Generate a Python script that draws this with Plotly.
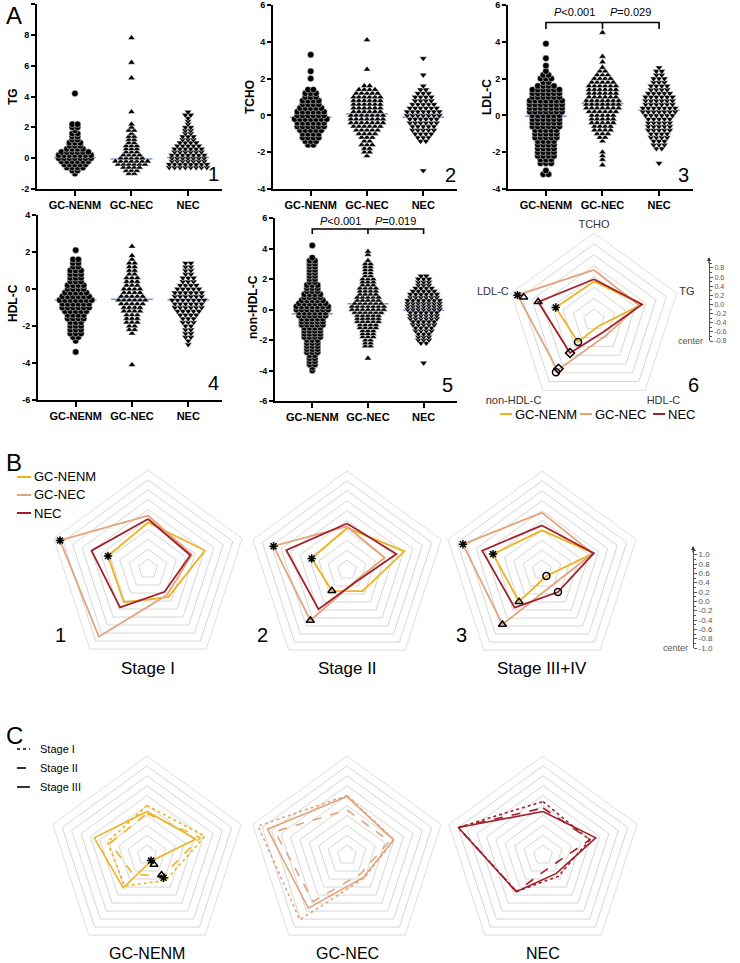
import plotly.graph_objects as go

W, H = 740, 963
FONT = "Liberation Sans, Arial, sans-serif"

# ---------------- categories / styles ----------------
GROUPS = ["GC-NENM", "GC-NEC", "NEC"]
GROUP_COLORS = ["#EDB21E", "#E3A47C", "#A3202A"]
MARKER_SYMBOLS = ["circle", "triangle-up", "triangle-down"]
STAGES = ["Stage I", "Stage II", "Stage III"]
STAGE_DASH = ["dot", "dash", "solid"]
STAGE_TITLES = ["Stage I", "Stage II", "Stage III+IV"]
RADAR_AXES = ["TCHO", "TG", "HDL-C", "non-HDL-C", "LDL-C"]


def levels(lo, hi):
    return [round(lo + 0.2 * i, 1) for i in range(int(round((hi - lo) / 0.2)) + 1)]


TG_LEVELS = levels(-1.0, 3.0)
TG_GCNENM = [1, 2, 4, 5, 6, 7, 7, 6, 4, 3, 3, 2, 2, 2, 1, 2, 2, 0, 0, 0, 0]
TG_GCNEC = [2, 3, 4, 6, 7, 5, 4, 3, 3, 3, 2, 2, 2, 1, 2, 1, 1, 0, 0, 0, 0]
TG_NEC = [0, 0, 8, 8, 7, 7, 7, 6, 6, 5, 4, 3, 3, 2, 2, 2, 1, 1, 1, 2, 1]
TG_OUT = [[4.2], [3.0, 5.2, 6.2, 7.8], []]
TG_MEAN = [0.05, -0.05, 0.05]

TCHO_LEVELS = levels(-2.2, 2.4)
TCHO_GCNENM = [0, 0, 0, 2, 3, 4, 4, 5, 6, 6, 7, 6, 6, 5, 4, 4, 3, 3, 2, 0, 0, 1, 0, 1]
TCHO_GCNEC = [1, 2, 2, 3, 2, 3, 4, 5, 6, 7, 7, 7, 6, 6, 6, 6, 6, 5, 4, 2, 0, 0, 0, 0]
TCHO_NEC = [0, 0, 0, 0, 2, 3, 4, 5, 5, 6, 6, 7, 7, 6, 5, 4, 4, 3, 2, 1, 0, 0, 1, 0]
TCHO_OUT = [[3.3], [2.5, 4.1], [3.1, -3.0]]
TCHO_MEAN = [-0.1, 0.08, -0.1]

LDL_LEVELS = levels(-3.2, 2.6)
LDL_GCNENM = [2, 1, 0, 3, 3, 4, 4, 4, 4, 4, 5, 5, 5, 6, 6, 6, 6, 7, 7, 7, 7, 6, 6, 6, 4, 2, 3, 2, 1, 0]
LDL_GCNEC = [0, 0, 0, 0, 1, 1, 1, 0, 0, 1, 2, 3, 4, 4, 5, 5, 5, 6, 7, 7, 7, 6, 6, 6, 6, 5, 4, 3, 2, 1]
LDL_NEC = [0, 0, 0, 0, 0, 0, 0, 2, 3, 3, 4, 4, 5, 5, 5, 5, 6, 7, 7, 6, 6, 6, 5, 4, 4, 3, 3, 2, 2, 1]
LDL_OUT = [[2.7, 3.1, 3.9], [-2.7, 2.9, 3.2, 4.5], [-2.6]]
LDL_MEAN = [-0.05, 0.65, 0.28]

HDL_LEVELS = levels(-3.0, 1.8)
HDL_GCNENM = [0, 1, 2, 3, 3, 3, 3, 4, 4, 5, 6, 6, 7, 6, 5, 4, 4, 3, 3, 3, 3, 2, 2, 2, 0]
HDL_GCNEC = [0, 0, 0, 1, 2, 2, 3, 3, 3, 4, 4, 5, 6, 5, 4, 4, 3, 3, 3, 2, 2, 2, 2, 1, 1]
HDL_NEC = [1, 1, 2, 2, 2, 2, 3, 3, 4, 5, 6, 6, 7, 6, 6, 5, 4, 3, 3, 2, 2, 2, 2, 0, 0]
HDL_OUT = [[2.1, -3.4], [2.3, -4.1], []]
HDL_MEAN = [-0.6, -0.55, -0.6]

NONHDL_LEVELS = levels(-4.0, 3.4)
NONHDL_GCNENM = [1, 1, 2, 2, 2, 2, 3, 3, 3, 3, 3, 4, 4, 4, 4, 5, 5, 5, 6, 6, 7, 7, 6, 5, 4, 4,
                 3, 3, 3, 2, 2, 2, 2, 2, 2, 2, 2, 1]
NONHDL_GCNEC = [0, 0, 0, 0, 0, 0, 0, 0, 2, 2, 2, 3, 3, 3, 4, 4, 5, 5, 5, 6, 7, 7, 6, 5, 5, 4,
                4, 4, 3, 3, 3, 2, 2, 2, 2, 2, 1, 0]
NONHDL_NEC = [0, 0, 0, 0, 0, 0, 0, 0, 0, 2, 3, 3, 3, 4, 4, 5, 5, 6, 6, 6, 7, 7, 7, 7, 6, 6,
              5, 4, 3, 3, 3, 2, 0, 0, 0, 0, 0, 0]
NONHDL_OUT = [[4.2], [-3.2, 3.6, 3.8], [-3.5]]
NONHDL_MEAN = [-0.28, 0.38, -0.05]

# ---------------- radar data (score on each lipid axis) ----------------
A6_CENTER, A6_TOP = -0.8, 0.8        # scale of radar 6 (center .. outer ring)
B_CENTER, B_TOP = -1.0, 1.0          # scale of panels B and C

A6_GCNENM = [-0.09, 0.13, -0.66, -0.30, -0.06]
A6_GCNEC = [0.12, 0.07, -0.44, 0.34, 0.68]
A6_NEC = [-0.05, 0.13, -0.52, -0.05, 0.28]

B1_GCNENM = [-0.06, 0.21, -0.30, -0.17, -0.15]
B1_GCNEC = [0.08, -0.07, -0.35, 0.69, 0.87]
B1_NEC = [0.01, -0.10, -0.43, -0.04, 0.20]
B2_GCNENM = [-0.15, 0.22, -0.47, -0.48, -0.25]
B2_GCNEC = [-0.12, -0.20, -0.72, 0.26, 0.56]
B2_NEC = [-0.06, 0.05, -0.70, -0.02, 0.29]
B3_GCNENM = [-0.20, 0.10, -0.85, -0.21, 0.04]
B3_GCNEC = [0.16, 0.08, -0.63, 0.36, 0.68]
B3_NEC = [-0.10, 0.10, -0.45, -0.06, 0.27]

C_GCNENM = [[0.00, 0.23, -0.36, -0.23, -0.16],
            [-0.16, 0.13, -0.47, -0.52, -0.22],
            [-0.12, 0.04, -0.85, -0.18, 0.12]]
C_GCNEC = [[0.20, 0.00, -0.42, 0.62, 0.89],
           [-0.09, -0.10, -0.53, 0.16, 0.53],
           [0.18, -0.01, -0.44, 0.33, 0.69]]
C_NEC = [[0.08, -0.01, -0.47, -0.09, 0.80],
         [-0.05, 0.00, -0.72, -0.09, 0.80],
         [-0.12, 0.12, -0.54, -0.08, 0.80]]

# significance markers on radars: axis, value, symbol
A6_MARK_AXIS = ["LDL-C", "LDL-C", "LDL-C", "LDL-C", "non-HDL-C", "non-HDL-C", "non-HDL-C", "non-HDL-C"]
A6_MARK_VAL = [0.68, 0.56, 0.28, -0.06, -0.30, -0.05, 0.39, 0.31]
A6_MARK_SYM = ["asterisk-open", "triangle-up-open", "triangle-up-open", "asterisk-open",
               "circle-open", "diamond-open", "circle-open", "diamond-open"]
B1_MARK_AXIS = ["LDL-C", "LDL-C"]
B1_MARK_VAL = [0.87, -0.15]
B1_MARK_SYM = ["asterisk-open", "asterisk-open"]
B2_MARK_AXIS = ["LDL-C", "LDL-C", "non-HDL-C", "non-HDL-C"]
B2_MARK_VAL = [0.56, -0.25, -0.48, 0.26]
B2_MARK_SYM = ["asterisk-open", "asterisk-open", "triangle-up-open", "triangle-up-open"]
B3_MARK_AXIS = ["LDL-C", "LDL-C", "non-HDL-C", "non-HDL-C", "HDL-C", "HDL-C"]
B3_MARK_VAL = [0.68, 0.04, -0.21, 0.36, -0.85, -0.45]
B3_MARK_SYM = ["asterisk-open", "asterisk-open", "triangle-up-open", "triangle-up-open",
               "circle-open", "circle-open"]
C1_MARK_AXIS = ["HDL-C", "HDL-C", "HDL-C", "HDL-C"]
C1_MARK_VAL = [-0.86, -0.76, -0.50, -0.43]
C1_MARK_SYM = ["asterisk-open", "triangle-up-open", "triangle-up-open", "asterisk-open"]

SCALE_A = [0.8, 0.6, 0.4, 0.2, 0.0, -0.2, -0.4, -0.6, -0.8]
SCALE_B = [1.0, 0.8, 0.6, 0.4, 0.2, 0.0, -0.2, -0.4, -0.6, -0.8, -1.0]


# ---------------- helpers ----------------
def fx(px):
    return px / W


def fy(py):
    return 1 - py / H


fig = go.Figure()
layout = dict(width=W, height=H, margin=dict(l=0, r=0, t=0, b=0),
              paper_bgcolor="white", plot_bgcolor="white", showlegend=False,
              font=dict(family=FONT, color="black"), template="none")
annotations = []
shapes = []


def ann(text, x, y, size=12, **kw):
    d = dict(text=text, x=fx(x), y=fy(y), xref="paper", yref="paper", showarrow=False,
             font=dict(family=FONT, size=size, color=kw.pop("color", "black")),
             xanchor=kw.pop("xanchor", "center"), yanchor=kw.pop("yanchor", "middle"))
    d.update(kw)
    annotations.append(d)


DX = 0.095
scatter_panels = [
    ("TG", TG_LEVELS, [TG_GCNENM, TG_GCNEC, TG_NEC], TG_OUT, TG_MEAN, (-2, 10), (37, 222), (4, 189)),
    ("TCHO", TCHO_LEVELS, [TCHO_GCNENM, TCHO_GCNEC, TCHO_NEC], TCHO_OUT, TCHO_MEAN, (-4, 6), (273, 457), (5, 189)),
    ("LDL-C", LDL_LEVELS, [LDL_GCNENM, LDL_GCNEC, LDL_NEC], LDL_OUT, LDL_MEAN, (-4, 6), (508, 693), (5, 189)),
    ("HDL-C", HDL_LEVELS, [HDL_GCNENM, HDL_GCNEC, HDL_NEC], HDL_OUT, HDL_MEAN, (-6, 4), (38, 222), (215, 400)),
    ("non-HDL-C", NONHDL_LEVELS, [NONHDL_GCNENM, NONHDL_GCNEC, NONHDL_NEC], NONHDL_OUT, NONHDL_MEAN, (-6, 6), (275, 457), (218, 401)),
]

for k, (name, lv, counts, outs, means, yr, xd, yd) in enumerate(scatter_panels):
    n = k + 1
    xa, ya = ("x" if n == 1 else f"x{n}"), ("y" if n == 1 else f"y{n}")
    for ci in range(3):
        fig.add_trace(go.Scatter(x=[ci - 0.37, ci + 0.37], y=[means[ci], means[ci]], mode="lines",
                                 line=dict(color="#7196EA", width=1.5), xaxis=xa, yaxis=ya,
                                 hoverinfo="skip"))
    for ci in range(3):
        xs, ys = [], []
        for v, c in zip(lv, counts[ci]):
            for j in range(c):
                xs.append(ci + (j - (c - 1) / 2) * DX)
                ys.append(v)
        for v in outs[ci]:
            xs.append(ci)
            ys.append(v)
        fig.add_trace(go.Scatter(x=xs, y=ys, mode="markers", xaxis=xa, yaxis=ya,
                                 marker=dict(symbol=MARKER_SYMBOLS[ci], size=6.5, color="black",
                                             line=dict(color="white", width=0.5))))
    tv = list(range(yr[0], yr[1] + 1, 2))
    layout["xaxis" if n == 1 else f"xaxis{n}"] = dict(
        domain=[fx(xd[0]), fx(xd[1])], range=[-0.67, 2.6], anchor=ya,
        tickvals=[0, 1, 2], ticktext=GROUPS, showline=True, linecolor="black", linewidth=2,
        ticks="outside", ticklen=5, tickwidth=2, tickcolor="black", showgrid=False, zeroline=False,
        tickfont=dict(family=FONT, size=11, color="black", weight="bold"))
    layout["yaxis" if n == 1 else f"yaxis{n}"] = dict(
        domain=[fy(yd[1]), fy(yd[0])], range=list(yr), anchor=xa,
        tickvals=tv, ticktext=[str(t) for t in tv], showline=True, linecolor="black", linewidth=2,
        ticks="outside", ticklen=4, tickwidth=2, tickcolor="black", showgrid=False, zeroline=False,
        tickfont=dict(family=FONT, size=9, color="black", weight="bold"))

# y-axis titles
ann("<b>TG</b>", 13, 97, 12, textangle=-90)
ann("<b>TCHO</b>", 250, 97, 12, textangle=-90)
ann("<b>LDL-C</b>", 487, 97, 12, textangle=-90)
ann("<b>HDL-C</b>", 13, 303, 12, textangle=-90)
ann("<b>non-HDL-C</b>", 253, 307, 12, textangle=-90)

# significance brackets (plots 3 and 5)
for n, ylev, ytick, ytxt, texts in [(3, 5.05, 4.7, 5.6, ["<i>P</i>&lt;0.001", "<i>P</i>=0.029"]),
                                      (5, 5.28, 4.95, 5.82, ["<i>P</i>&lt;0.001", "<i>P</i>=0.019"])]:
    fig.add_trace(go.Scatter(x=[0, 0, 2, 2], y=[ytick, ylev, ylev, ytick], mode="lines",
                             line=dict(color="black", width=1.6), xaxis=f"x{n}", yaxis=f"y{n}"))
    fig.add_trace(go.Scatter(x=[1, 1], y=[ylev, ytick], mode="lines",
                             line=dict(color="black", width=1.6), xaxis=f"x{n}", yaxis=f"y{n}"))
    for i, t in enumerate(texts):
        annotations.append(dict(text=t, x=0.5 + i, y=ytxt, xref=f"x{n}", yref=f"y{n}",
                                showarrow=False, font=dict(family=FONT, size=11, color="black")))

# panel numbers
for t, x, y in [("1", 213, 174), ("2", 450, 175), ("3", 683, 175), ("4", 213, 383),
                ("5", 447, 385), ("6", 693, 385), ("1", 60, 635), ("2", 262, 635), ("3", 462, 635)]:
    ann(t, x, y, 20)

# panel letters
ann("A", 14, 16, 24)
ann("B", 14, 462, 24)
ann("C", 14, 735, 24)


# ---------------- radar charts ----------------
# radial axis is measured from the chart centre (value - centre value)
def polar_layout(cx, cy, R, lo, hi, show_labels=False, lsize=11):
    return dict(
        domain=dict(x=[fx(cx - R), fx(cx + R)], y=[fy(cy + R), fy(cy - R)]),
        gridshape="linear", bgcolor="rgba(0,0,0,0)", hole=0,
        radialaxis=dict(range=[0, hi - lo], dtick=0.2, showticklabels=False, ticks="",
                        showline=False, gridcolor="#D6D6D6", gridwidth=0.8),
        angularaxis=dict(type="category", categoryarray=RADAR_AXES, categoryorder="array",
                         rotation=90, direction="clockwise", showgrid=False, showline=True,
                         linecolor="#D6D6D6", linewidth=0.8, ticks="", showticklabels=show_labels,
                         tickfont=dict(family=FONT, size=lsize, color="#333")))


def radar_line(sub, vals, lo, color, dash="solid", width=1.8):
    r = [v - lo for v in vals]
    fig.add_trace(go.Scatterpolar(r=r + [r[0]], theta=RADAR_AXES + [RADAR_AXES[0]],
                                  mode="lines", line=dict(color=color, width=width, dash=dash),
                                  subplot=sub, hoverinfo="skip"))


def radar_marks(sub, axes, vals, syms, lo):
    fig.add_trace(go.Scatterpolar(r=[v - lo for v in vals], theta=axes, mode="markers",
                                  subplot=sub, cliponaxis=False,
                                  marker=dict(symbol=syms, size=7, color="black",
                                              line=dict(color="black", width=1.5))))


layout["polar"] = polar_layout(594, 320, 87, A6_CENTER, A6_TOP, True, 11)
for vals, col in zip([A6_GCNENM, A6_GCNEC, A6_NEC], GROUP_COLORS):
    radar_line("polar", vals, A6_CENTER, col)
radar_marks("polar", A6_MARK_AXIS, A6_MARK_VAL, A6_MARK_SYM, A6_CENTER)

B_CENTERS = [(148, 569), (347, 570), (542, 570)]
B_DATA = [(B1_GCNENM, B1_GCNEC, B1_NEC), (B2_GCNENM, B2_GCNEC, B2_NEC), (B3_GCNENM, B3_GCNEC, B3_NEC)]
B_MARKS = [(B1_MARK_AXIS, B1_MARK_VAL, B1_MARK_SYM), (B2_MARK_AXIS, B2_MARK_VAL, B2_MARK_SYM),
           (B3_MARK_AXIS, B3_MARK_VAL, B3_MARK_SYM)]
for i in range(3):
    sub = f"polar{i + 2}"
    layout[sub] = polar_layout(B_CENTERS[i][0], B_CENTERS[i][1], 99, B_CENTER, B_TOP)
    for vals, col in zip(B_DATA[i], GROUP_COLORS):
        radar_line(sub, vals, B_CENTER, col)
    radar_marks(sub, *B_MARKS[i], B_CENTER)
    ann(STAGE_TITLES[i], B_CENTERS[i][0], 668, 17)

C_CENTERS = [(147, 855), (347, 855), (543, 855)]
C_DATA = [C_GCNENM, C_GCNEC, C_NEC]
for i in range(3):
    sub = f"polar{i + 5}"
    layout[sub] = polar_layout(C_CENTERS[i][0], C_CENTERS[i][1], 99, B_CENTER, B_TOP)
    for s in range(3):
        radar_line(sub, C_DATA[i][s], B_CENTER, GROUP_COLORS[i], STAGE_DASH[s], 1.6)
    ann(GROUPS[i], C_CENTERS[i][0], 953, 16)
radar_marks("polar5", C1_MARK_AXIS, C1_MARK_VAL, C1_MARK_SYM, B_CENTER)

# small key radar
layout["polar8"] = polar_layout(688, 737, 33, B_CENTER, B_TOP, True, 8)

# ---------------- scale bars ----------------
fig.add_trace(go.Scatter(x=[None], y=[None], xaxis="x6", yaxis="y6", hoverinfo="skip"))
fig.add_trace(go.Scatter(x=[None], y=[None], xaxis="x7", yaxis="y7", hoverinfo="skip"))
layout["xaxis6"] = dict(visible=False, domain=[0.9, 0.92], anchor="y6")
layout["xaxis7"] = dict(visible=False, domain=[0.9, 0.92], anchor="y7")
layout["yaxis6"] = dict(domain=[fy(341), fy(262)], range=[-0.8, 0.93], anchor="free", position=fx(709),
                        side="right", showline=True, linecolor="#555", linewidth=1, ticks="outside",
                        ticklen=3, tickcolor="#555", tickvals=SCALE_A,
                        ticktext=[f"{v:.1f}" for v in SCALE_A], showgrid=False, zeroline=False,
                        tickfont=dict(family=FONT, size=7, color="#555"),
                        minor=dict(dtick=0.1, ticklen=2, tickcolor="#555", ticks="outside"))
layout["yaxis7"] = dict(domain=[fy(648), fy(550)], range=[-1.0, 1.1], anchor="free", position=fx(693),
                        side="right", showline=True, linecolor="#555", linewidth=1, ticks="outside",
                        ticklen=3, tickcolor="#555", tickvals=SCALE_B,
                        ticktext=[f"{v:.1f}" for v in SCALE_B], showgrid=False, zeroline=False,
                        tickfont=dict(family=FONT, size=8, color="#555"),
                        minor=dict(dtick=0.1, ticklen=2, tickcolor="#555", ticks="outside"))
for x, ytip in [(709, 257), (693, 546)]:
    annotations.append(dict(x=fx(x), y=fy(ytip), xref="paper", yref="paper", text="",
                            showarrow=True, ax=0, ay=8, arrowhead=2, arrowsize=0.8,
                            arrowwidth=1, arrowcolor="#333"))
ann("center", 705, 341, 9, color="#555", xanchor="right")
ann("center", 690, 648, 9, color="#555", xanchor="right")

# ---------------- legends ----------------
for (x0, txt), col in zip([(500, "GC-NENM"), (580, "GC-NEC"), (653, "NEC")], GROUP_COLORS):
    shapes.append(dict(type="line", xref="paper", yref="paper", x0=fx(x0), x1=fx(x0 + 12),
                       y0=fy(414), y1=fy(414), line=dict(color=col, width=2)))
    ann(txt, x0 + 13, 414, 13, xanchor="left")
for (yy, txt), col in zip([(477, "GC-NENM"), (495, "GC-NEC"), (513, "NEC")], GROUP_COLORS):
    shapes.append(dict(type="line", xref="paper", yref="paper", x0=fx(17), x1=fx(31),
                       y0=fy(yy), y1=fy(yy), line=dict(color=col, width=2)))
    ann(txt, 32, yy, 13, xanchor="left")
for yy, txt, dash in zip([749, 768, 787], STAGES, STAGE_DASH):
    shapes.append(dict(type="line", xref="paper", yref="paper", x0=fx(17), x1=fx(30),
                       y0=fy(yy), y1=fy(yy), line=dict(color="black", width=1.6, dash=dash)))
    ann(txt, 38, yy, 11, xanchor="left")

layout["annotations"] = annotations
layout["shapes"] = shapes
fig.update_layout(**layout)
fig.write_html("out.html", config={"displayModeBar": False},
               post_script="document.body.style.margin='0px';document.body.style.overflow='hidden';")
